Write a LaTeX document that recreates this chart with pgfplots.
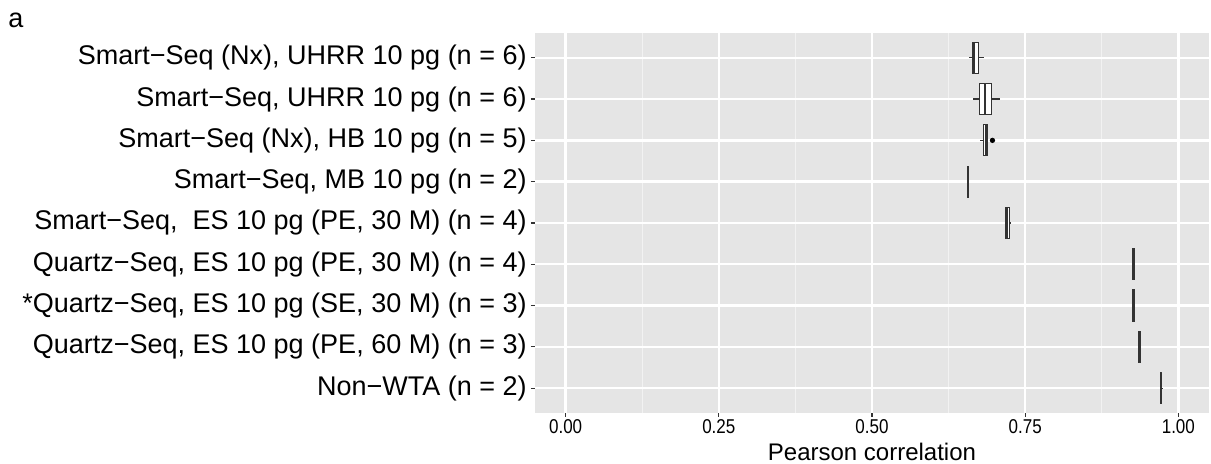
\documentclass[border=0pt]{standalone}
\usepackage{fontspec}
\setmainfont{Liberation Sans}
\usepackage{pgfplots}
\usepgfplotslibrary{statistics}
\pgfplotsset{compat=1.18}
\definecolor{panel}{HTML}{E5E5E5}
\definecolor{minorgrid}{HTML}{F2F2F2}
\definecolor{tickcol}{HTML}{333333}

\begin{document}
\begin{tikzpicture}
\begin{axis}[
  name=ax,
  width=337pt, height=190pt, scale only axis,
  xmin=-0.05, xmax=1.05, ymin=0.4, ymax=9.6,
  axis background/.style={fill=panel},
  axis line style={draw=none},
  xtick={0,0.25,0.5,0.75,1},
  xticklabels={0.00,0.25,0.50,0.75,1.00},
  minor xtick={0.125,0.375,0.625,0.875},
  ytick={1,...,9},
  yticklabels={
    {Non−WTA (n = 2)},
    {Quartz−Seq, ES 10 pg (PE, 60 M) (n = 3)},
    {*Quartz−Seq, ES 10 pg (SE, 30 M) (n = 3)},
    {Quartz−Seq, ES 10 pg (PE, 30 M) (n = 4)},
    {Smart−Seq,\ \ ES 10 pg (PE, 30 M) (n = 4)},
    {Smart−Seq, MB 10 pg (n = 2)},
    {Smart−Seq (Nx), HB 10 pg (n = 5)},
    {Smart−Seq, UHRR 10 pg (n = 6)},
    {Smart−Seq (Nx), UHRR 10 pg (n = 6)}},
  grid=both,
  major grid style={white, line width=1.2pt},
  minor grid style={minorgrid, line width=0.6pt},
  tick pos=left,
  tick align=outside,
  major tick length=2pt,
  minor tick length=0pt,
  tick style={tickcol, line width=0.6pt},
  yticklabel style={font=\fontsize{13.5}{13.5}\selectfont, anchor=east, inner sep=0pt, xshift=-2pt},
  xticklabel style={font=\fontsize{10}{10}\selectfont, inner sep=0pt, xscale=0.85, yshift=-1pt},
  xlabel={Pearson correlation},
  xlabel style={font=\fontsize{12}{12}\selectfont, at={(axis description cs:0.5,0)}, anchor=center, yshift=-19.5pt},
  clip=false,
  boxplot/draw direction=x,
  boxplot/box extend=0.75,
  boxplot/whisker extend=0,
  boxplot/every median/.style={line width=1pt},
  every axis plot/.append style={draw=tickcol, fill=white, line width=0.6pt},
]
\addplot[boxplot prepared={draw position=9, lower whisker=0.6585, lower quartile=0.6646, median=0.6667, upper quartile=0.6743, upper whisker=0.6825}] coordinates {};
\addplot[boxplot prepared={draw position=8, lower whisker=0.6646, lower quartile=0.6753, median=0.6852, upper quartile=0.6956, upper whisker=0.7092}] coordinates {};
\addplot[boxplot prepared={draw position=7, lower whisker=0.6765, lower quartile=0.6825, median=0.6855, upper quartile=0.6890, upper whisker=0.6890}] coordinates {};
\addplot[boxplot prepared={draw position=6, lower whisker=0.6555, lower quartile=0.6558, median=0.6563, upper quartile=0.6568, upper whisker=0.6571}] coordinates {};
\addplot[boxplot prepared={draw position=5, lower whisker=0.7173, lower quartile=0.7173, median=0.7200, upper quartile=0.7239, upper whisker=0.7266}] coordinates {};
\addplot[boxplot prepared={draw position=4, lower whisker=0.9250, lower quartile=0.9253, median=0.9262, upper quartile=0.9275, upper whisker=0.9280}] coordinates {};
\addplot[boxplot prepared={draw position=3, lower whisker=0.9245, lower quartile=0.9248, median=0.9260, upper quartile=0.9275, upper whisker=0.9278}] coordinates {};
\addplot[boxplot prepared={draw position=2, lower whisker=0.9346, lower quartile=0.9350, median=0.9365, upper quartile=0.9380, upper whisker=0.9384}] coordinates {};
\addplot[boxplot prepared={draw position=1, lower whisker=0.9710, lower quartile=0.9712, median=0.9722, upper quartile=0.9730, upper whisker=0.9745}] coordinates {};
% outlier
\addplot[only marks, mark=*, mark size=1pt, black, fill=black] coordinates {(0.6966,7)};
\end{axis}
\node[anchor=base west, inner sep=0pt, font=\fontsize{13.5}{13.5}\selectfont] at ([shift={(-263.5pt,2.5pt)}]ax.north west) {a};
\pgfresetboundingbox
\useasboundingbox ([shift={(-267.5pt,-25.5pt)}]ax.south west) rectangle ([shift={(1pt,16.5pt)}]ax.north east);
\end{tikzpicture}
\end{document}
